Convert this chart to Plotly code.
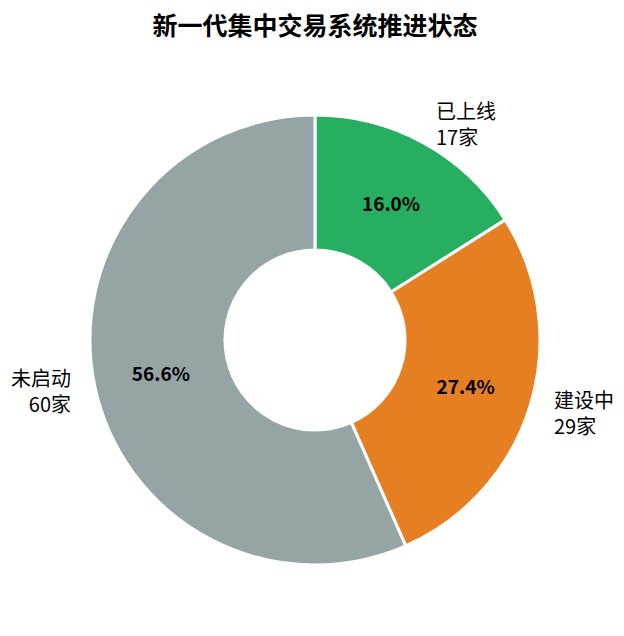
import math
import plotly.graph_objects as go

# données : état d'avancement du nouveau système de trading centralisé
statuts = ['已上线', '建设中', '未启动']
nb_societes = [17, 29, 60]
couleurs = ['#27ae60', '#e67e22', '#95a5a6']

police = 'Microsoft YaHei, Noto Sans CJK SC, sans-serif'

fig = go.Figure()
fig.add_trace(go.Pie(
    labels=statuts, values=nb_societes, hole=0.4, sort=False,
    direction='clockwise', rotation=0,
    domain=dict(x=[0, 1], y=[0, 1]),
    marker=dict(colors=couleurs, line=dict(color='white', width=3)),
    textinfo='percent', texttemplate='<b>%{percent:.1%}</b>',
    textposition='inside', insidetextorientation='horizontal',
    textfont=dict(size=19, color='black', family=police),
    showlegend=False, hoverinfo='skip'))

# étiquettes extérieures à 1.1 x rayon, comme labeldistance de matplotlib
total = sum(nb_societes)
cumul = 0
for s, n in zip(statuts, nb_societes):
    milieu = 90 - 360 * (cumul + n / 2) / total
    cumul += n
    cx = math.cos(math.radians(milieu))
    cy = math.sin(math.radians(milieu))
    fig.add_annotation(
        x=0.5 + 0.55 * cx, y=0.5 + 0.55 * cy, xref='paper', yref='paper',
        text=s + '<br>' + str(n) + '家', showarrow=False,
        xanchor='left' if cx > 0 else 'right', yanchor='middle',
        align='left' if cx > 0 else 'right',
        font=dict(size=20, color='black', family=police))

# la page décale la figure de 8 px (marge du body) : on compense ici
fig.update_layout(
    width=624, height=636,
    margin=dict(l=82, r=92, t=107, b=79),
    paper_bgcolor='white', plot_bgcolor='white',
    title=dict(text='<b>新一代集中交易系统推进状态</b>', x=0.492, xanchor='center',
               y=0.971, yanchor='middle',
               font=dict(size=25, color='black', family=police)))

fig.write_html('out.html')
